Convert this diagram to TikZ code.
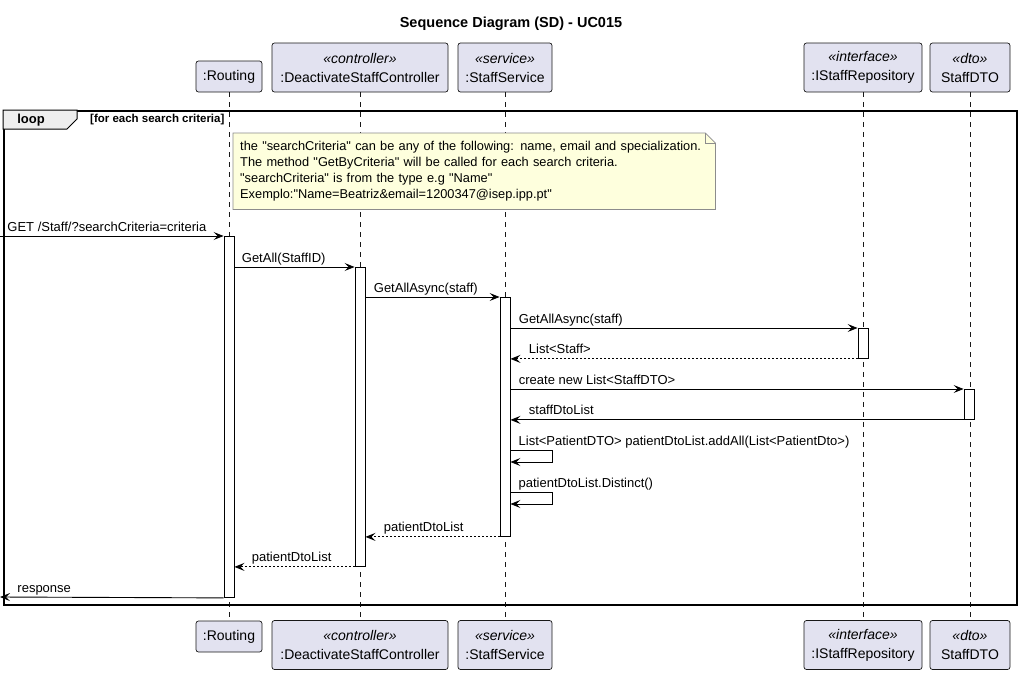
\documentclass[tikz,border=0pt]{standalone}
\usepackage{fontspec}
\setmainfont{Liberation Sans}[Ligatures=TeXOff]
\usetikzlibrary{arrows.meta}

\definecolor{partfill}{HTML}{E2E2F0}
\definecolor{partline}{HTML}{181818}
\definecolor{notefill}{HTML}{FEFFDD}
\definecolor{noteline}{HTML}{8C8C8C}
\definecolor{tabfill}{HTML}{EEEEEE}

\begin{document}
\begin{tikzpicture}[
    x=1pt, y=-1pt,
    >={Stealth[length=10pt,width=8pt,inset=4pt]},
    part/.style={
        draw=partline,
        fill=partfill,
        rounded corners=2.5pt,
        line width=0.7pt,
        align=center,
        inner sep=0pt,
        font=\fontsize{14}{19}\selectfont
    },
    life/.style={partline, dash pattern=on 5pt off 5pt, line width=0.5pt},
    act/.style={draw, fill=white, line width=0.9pt, minimum width=10pt, inner sep=0pt, anchor=north},
    msg/.style={->, line width=0.9pt},
    ret/.style={->, line width=0.9pt, dash pattern=on 2pt off 2pt},
    lbl/.style={font=\fontsize{13}{15}\selectfont, inner sep=0pt, anchor=base west}
]
\useasboundingbox (0,0) rectangle (1020,675);

% 제목
\node[font=\bfseries\fontsize{14.5}{16}\selectfont] (title) at (511,24) {Sequence Diagram (SD) - UC015};

% 참여자 (위)
\node[part, minimum width=66, minimum height=31] (routT) at (229,76.5) {:Routing};
\node[part, minimum width=176, minimum height=49] (ctrlT) at (360,67.5) {\textit{«controller»}\\:DeactivateStaffController};
\node[part, minimum width=94, minimum height=49] (svcT) at (505,67.5) {\textit{«service»}\\:StaffService};
\node[part, minimum width=118, minimum height=49] (repoT) at (863,67.5) {\textit{«interface»}\\:IStaffRepository};
\node[part, minimum width=80, minimum height=49] (dtoT) at (970,67.5) {\textit{«dto»}\\StaffDTO};

% 참여자 (아래)
\node[part, minimum width=66, minimum height=31] (routB) at (229,636.5) {:Routing};
\node[part, minimum width=176, minimum height=49] (ctrlB) at (360,645) {\textit{«controller»}\\:DeactivateStaffController};
\node[part, minimum width=94, minimum height=49] (svcB) at (505,645) {\textit{«service»}\\:StaffService};
\node[part, minimum width=118, minimum height=49] (repoB) at (863,645) {\textit{«interface»}\\:IStaffRepository};
\node[part, minimum width=80, minimum height=49] (dtoB) at (970,645) {\textit{«dto»}\\StaffDTO};

% 생명선
\draw[life] (routT) -- (routB);
\draw[life] (ctrlT) -- (ctrlB);
\draw[life] (svcT) -- (svcB);
\draw[life] (repoT) -- (repoB);
\draw[life] (dtoT) -- (dtoB);

% loop 프레임
\node[draw, line width=1.5pt, minimum width=1013, minimum height=494, anchor=north west, inner sep=0pt] (loopbox) at (3,110) {};
\filldraw[fill=tabfill, line width=1pt] (loopbox.north west) -- ++(74,0) -- ++(0,9) -- ++(-10,10) -- ++(-64,0) -- cycle;
\node[font=\bfseries\fontsize{13}{15}\selectfont] (looptxt) at (31,120) {loop};
\node[font=\bfseries\fontsize{11.5}{13}\selectfont, anchor=west, inner sep=0pt] (guard) at (90,120) {[for each search criteria]};

% 노트
\node[anchor=north west, fill=notefill, minimum width=482, minimum height=76, text width=468,
      inner xsep=7pt, align=left, font=\fontsize{12.8}{16.3}\selectfont] (note) at (233,133)
  {the "searchCriteria" can be any of the following: name, email and specialization.\\
   The method "GetByCriteria" will be called for each search criteria.\\
   "searchCriteria" is from the type e.g "Name"\\
   Exemplo:"Name=Beatriz\&email=1200347@isep.ipp.pt"};
\fill[white] ([xshift=-10pt]note.north east) -- (note.north east) -- ([yshift=-10pt]note.north east) -- cycle;
\draw[noteline, line width=0.7pt] (note.north west) -- ([xshift=-10pt]note.north east) -- ([yshift=-10pt]note.north east) -- (note.south east) -- (note.south west) -- cycle;
\draw[noteline, line width=0.7pt] ([xshift=-10pt]note.north east) |- ([yshift=-10pt]note.north east);

% 활성 구간
\node[act, minimum height=361] (aRout) at (229,236) {};
\node[act, minimum height=299] (aCtrl) at (360,267) {};
\node[act, minimum height=239] (aSvc) at (505,297) {};
\node[act, minimum height=30] (aRepo) at (863,328) {};
\node[act, minimum height=30] (aDto) at (969,389) {};

% 메시지
\coordinate (inL) at (0,236);
\coordinate (outL) at (0,597);
\draw[msg] (inL) -- (aRout.north west) node[lbl, pos=0, xshift=7pt, yshift=5pt] {GET /Staff/?searchCriteria=criteria};
\draw[msg] (aRout.east |- aCtrl.north) -- (aCtrl.north west) node[lbl, pos=0, xshift=7pt, yshift=5pt] {GetAll(StaffID)};
\draw[msg] (aCtrl.east |- aSvc.north) -- (aSvc.north west) node[lbl, pos=0, xshift=8pt, yshift=5pt] {GetAllAsync(staff)};
\draw[msg] (aSvc.east |- aRepo.north) -- (aRepo.north west) node[lbl, pos=0, xshift=8pt, yshift=5pt] {GetAllAsync(staff)};
\draw[ret] (aRepo.south west) -- (aSvc.east |- aRepo.south) node[lbl, pos=1, xshift=18pt, yshift=5pt] {List<Staff>};
\draw[msg] (aSvc.east |- aDto.north) -- (aDto.north west) node[lbl, pos=0, xshift=8pt, yshift=5pt] {create new List<StaffDTO>};
\draw[msg] (aDto.south west) -- (aSvc.east |- aDto.south) node[lbl, pos=1, xshift=18pt, yshift=5pt] {staffDtoList};

% 자기 호출
\coordinate (add1) at (aSvc.east |- 0,450);
\coordinate (add2) at (aSvc.east |- 0,462);
\draw[msg] (add1) -- ++(42,0) |- (add2);
\node[lbl] (addtxt) at ([xshift=8pt,yshift=5pt]add1) {List<PatientDTO> patientDtoList.addAll(List<PatientDto>)};
\coordinate (dst1) at (aSvc.east |- 0,492);
\coordinate (dst2) at (aSvc.east |- 0,504);
\draw[msg] (dst1) -- ++(42,0) |- (dst2);
\node[lbl] (dsttxt) at ([xshift=8pt,yshift=5pt]dst1) {patientDtoList.Distinct()};

% 반환
\draw[ret] (aSvc.south west) -- (aCtrl.east |- aSvc.south) node[lbl, pos=1, xshift=18pt, yshift=5pt] {patientDtoList};
\draw[ret] (aCtrl.south west) -- (aRout.east |- aCtrl.south) node[lbl, pos=1, xshift=17pt, yshift=5pt] {patientDtoList};
\draw[msg] (aRout.south west) -- (outL) node[lbl, pos=1, xshift=17pt, yshift=5pt] {response};

\end{tikzpicture}
\end{document}
